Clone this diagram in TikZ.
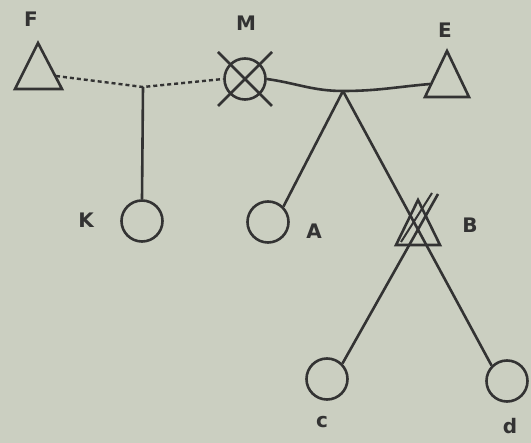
\documentclass[tikz,border=0pt]{standalone}
\usepackage{fontspec}
\setmainfont{DejaVu Sans}
\begin{document}
\begin{tikzpicture}[x=1pt,y=-1pt,
  ln/.style={draw=black!80,line width=2.6pt},
  pers/.style={circle,draw=black!80,line width=2.6pt,minimum size=41pt,inner sep=0pt},
  lab/.style={font=\fontsize{20}{22}\selectfont\bfseries,text=black!80,inner sep=0pt},
  dsh/.style={ln,line width=2.4pt,dash pattern=on 4pt off 3pt}]
\fill[fill={rgb,255:red,203;green,207;blue,193}] (0,0) rectangle (531,443);
\useasboundingbox (0,0) rectangle (531,443);
% F triangle
\coordinate (Ftop) at (38,43);
\draw[ln,line join=miter] (Ftop) -- (15,89) -- (62,89) -- cycle;
\coordinate (Fr) at (56,76);
\node[lab] at (31,19) {F};
% M
\node[pers] (M) at (245,79) {};
\draw[ln] (218,52) -- (272,106);
\draw[ln] (272,52) -- (218,106);
\node[lab] at (246,23) {M};
% E triangle
\coordinate (Etop) at (447,51);
\draw[ln,line join=miter] (Etop) -- (425,97) -- (469,97) -- cycle;
\coordinate (El) at (430,84);
\node[lab] at (445,30) {E};
% junctions
\coordinate (J1) at (143,87);
\coordinate (J2) at (343,91);
\draw[dsh] (Fr) -- (J1) -- (M.west);
\draw[ln] (M.east) to[out=-8,in=180] (J2) to[out=0,in=185] (El);
% K
\node[pers] (K) at (142,221) {};
\node[lab] at (86,220) {K};
\draw[ln] (J1) -- (K.north);
% A
\node[pers] (A) at (268,222) {};
\node[lab] at (314,231) {A};
\draw[ln] (J2) -- (A.north east);
% B triangle
\coordinate (Btop) at (418,200);
\draw[ln,line join=miter] (Btop) -- (396,245) -- (440,245) -- cycle;
\node[lab] at (470,225) {B};
% c, d
\node[pers] (c) at (327,379) {};
\node[lab] at (322,422) {c};
\node[pers] (d) at (507,381) {};
\node[lab] at (510,426) {d};
\coordinate (Bs) at (438,194);
\draw[ln] (J2) -- (d.north west);
\draw[ln] (Bs) -- (c.north east);
\draw[ln,line width=2pt] (Bs) ++(-6,-1) -- ++(-31,49);
\end{tikzpicture}
\end{document}
